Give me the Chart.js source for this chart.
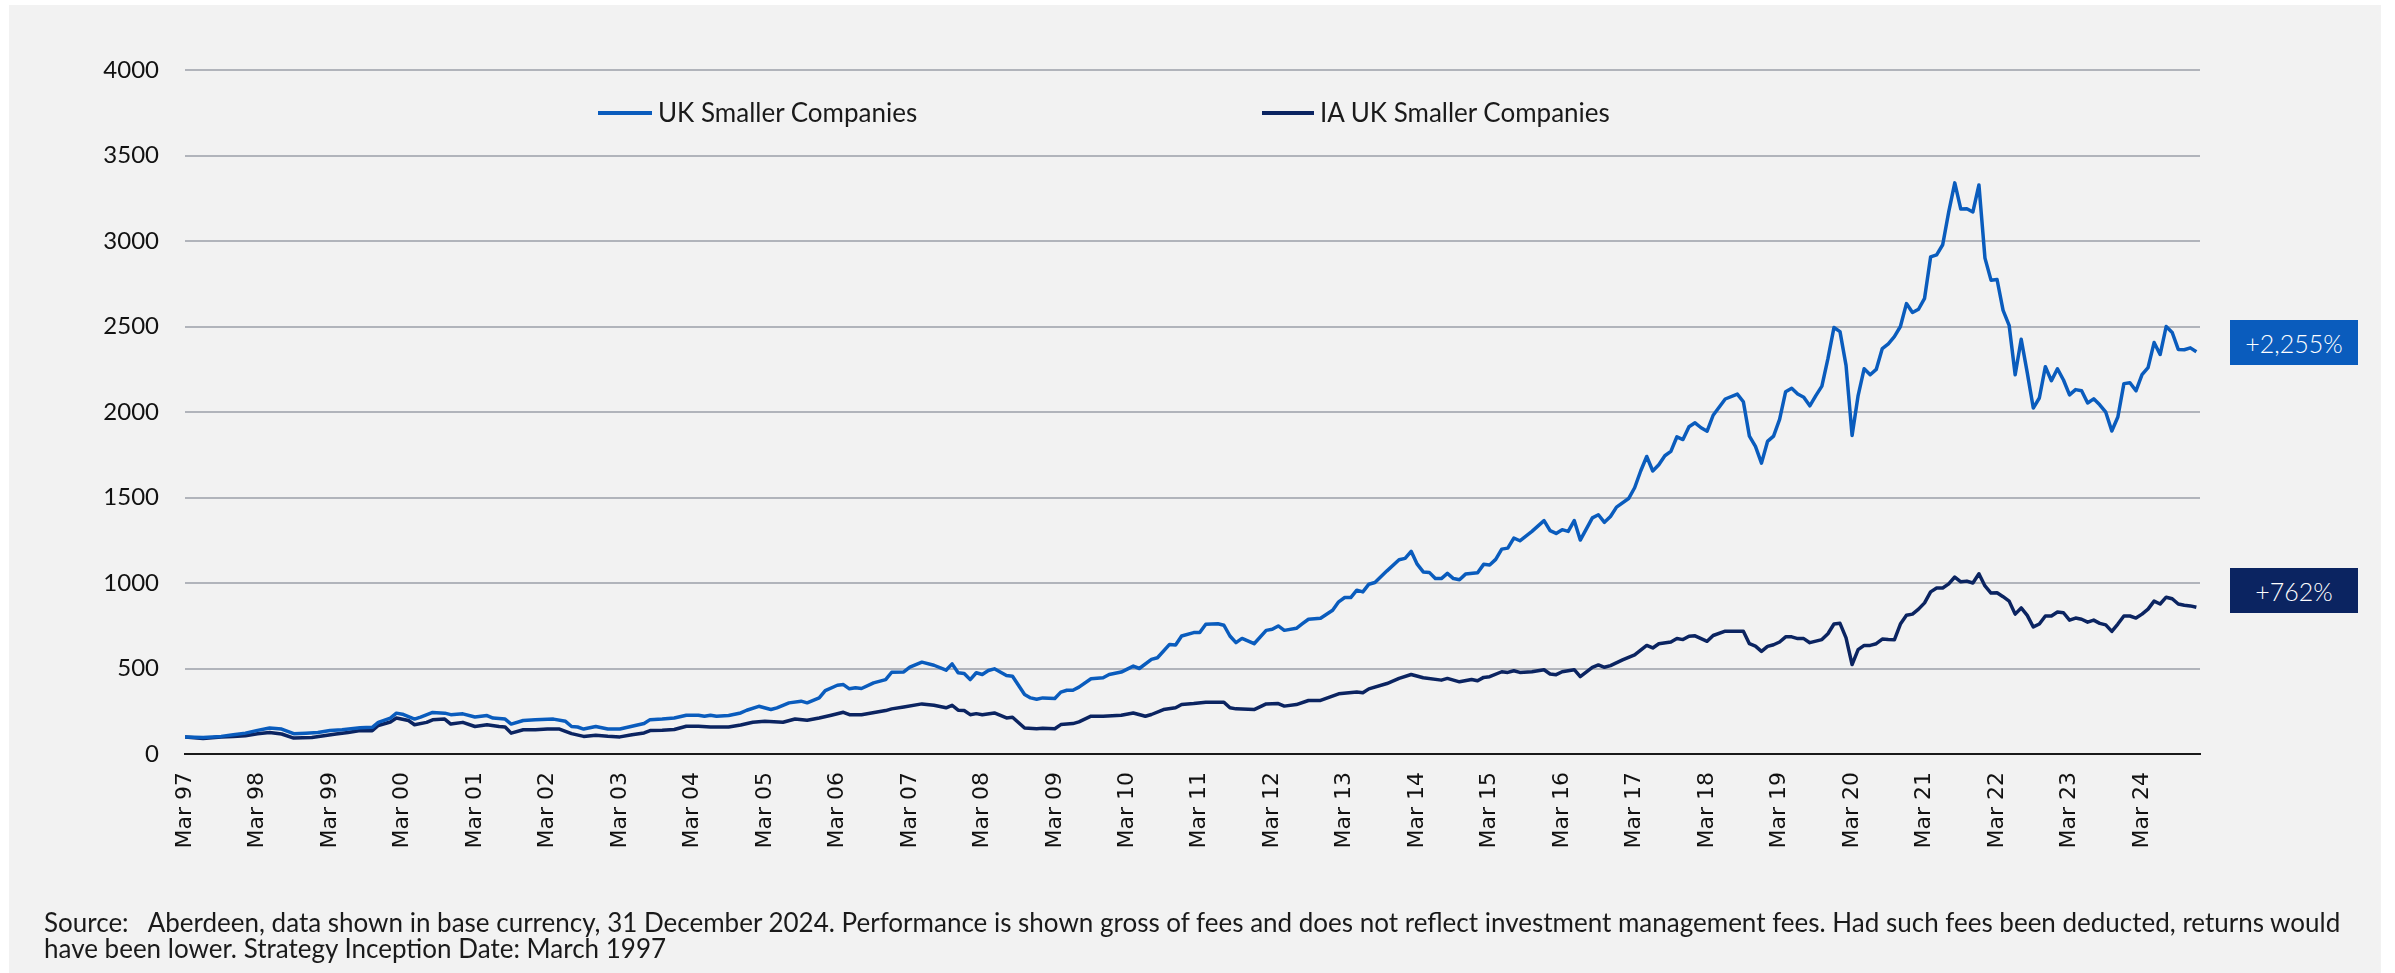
<!DOCTYPE html>
<html>
<head>
<meta charset="utf-8">
<script src="https://cdn.jsdelivr.net/npm/chart.js@4.4.1/dist/chart.umd.min.js"></script>
<style>
    html, body { margin: 0; padding: 0; background: #ffffff; }
    #panel { position: absolute; left: 9px; top: 5px; width: 2372px; height: 968px; background: #f2f2f2; }
    #wrap { position: absolute; left: 0; top: 0; width: 2395px; height: 973px; }
    .swatch { position: absolute; height: 4px; }
    .legend-text { position: absolute; font: 26px Lato, sans-serif; color: #1a1a1a; line-height: 30px; white-space: nowrap; }
    .badge { position: absolute; left: 2230px; width: 128px; height: 45px; color: #ffffff;
             font: 300 25px Lato, sans-serif; display: flex; align-items: center; justify-content: center; }
    .note { position: absolute; left: 44px; font: 26px Lato, sans-serif; color: #1a1a1a; white-space: nowrap; line-height: 26px; }
</style>
</head>
<body>
<div id="panel"></div>
<div id="wrap"><canvas id="perfChart"></canvas></div>

<div class="swatch" style="left:598px; top:111px; width:54px; background:#0a5cbd;"></div>
<div class="legend-text" style="left:658px; top:97px;">UK Smaller Companies</div>
<div class="swatch" style="left:1262px; top:111px; width:52px; background:#0b2461;"></div>
<div class="legend-text" style="left:1320px; top:97px;">IA UK Smaller Companies</div>

<div class="badge" style="top:320px; background:#0a5cbd;">+2,255%</div>
<div class="badge" style="top:568px; background:#0b2461;">+762%</div>

<div class="note" style="top:909px;">Source:&nbsp;&nbsp;&nbsp;Aberdeen, data shown in base currency, 31 December 2024. Performance is shown gross of fees and does not reflect investment management fees. Had such fees been deducted, returns would</div>
<div class="note" style="top:935px;">have been lower. Strategy Inception Date: March 1997</div>

<script>
// Подписи оси X (каждый март)
const tickLabels = ['Mar 97', 'Mar 98', 'Mar 99', 'Mar 00', 'Mar 01', 'Mar 02', 'Mar 03', 'Mar 04',
                    'Mar 05', 'Mar 06', 'Mar 07', 'Mar 08', 'Mar 09', 'Mar 10', 'Mar 11', 'Mar 12',
                    'Mar 13', 'Mar 14', 'Mar 15', 'Mar 16', 'Mar 17', 'Mar 18', 'Mar 19', 'Mar 20',
                    'Mar 21', 'Mar 22', 'Mar 23', 'Mar 24'];

// UK Smaller Companies: месяц от Mar 97 и значение
const ukMonths = [
    0, 3, 6, 8, 10,
    12, 14, 16, 18, 20, 22,
    24, 26, 29, 31, 32, 34, 35,
    36, 38, 39, 41, 43, 44, 46,
    48, 50, 51, 53, 54, 56, 58,
    61, 63, 64, 65, 66, 68, 70,
    72, 74, 76, 77, 79, 81, 83,
    85, 86, 87, 88, 90, 92, 93, 95,
    97, 98, 100, 102, 103, 105, 106,
    108, 109, 110, 111, 112, 114, 116, 117, 119,
    120, 122, 124, 126, 127, 128, 129, 130, 131,
    132, 133, 134, 136, 137, 139, 140, 141, 142,
    144, 145, 146, 147, 148, 150, 152, 153, 155,
    157, 158, 160, 161, 163, 164, 165, 167,
    168, 169, 171, 172, 173, 174, 175, 177, 179,
    180, 181, 182, 184, 185, 186, 188, 190, 191,
    192, 193, 194, 195, 196, 197, 199, 201, 202, 203,
    204, 205, 206, 207, 208, 209, 210, 211, 212,
    214, 215, 216, 217, 218, 219, 220, 221, 223, 225,
    226, 227, 228, 229, 230, 231, 233, 234, 235, 236, 237,
    239, 240, 241, 242, 243, 244, 245, 246, 247,
    248, 249, 250, 251, 252, 253, 255, 257, 258, 259,
    260, 261, 262, 263, 264, 265, 266, 267, 268, 269, 270, 271,
    272, 273, 274, 275, 276, 277, 278, 279, 280, 281, 282, 283,
    284, 285, 286, 287, 288, 289, 290, 291, 292, 293, 294, 295,
    296, 297, 298, 299, 300, 301, 302, 303, 304, 305, 306, 307,
    308, 309, 310, 311, 312, 313, 314, 315, 316, 317, 318, 319,
    320, 321, 322, 323, 324, 325, 326, 327, 328, 329, 330, 331,
    332, 333
];
const ukValues = [
    100, 97, 103, 113, 122,
    138, 152, 146, 119, 122, 126,
    138, 142, 154, 156, 185, 210, 239,
    233, 204, 216, 243, 239, 230, 235,
    216, 225, 210, 204, 175, 196, 200,
    204, 191, 161, 158, 146, 161, 146,
    146, 162, 178, 201, 205, 211, 227,
    227, 221, 227, 221, 225, 240, 256, 279,
    260, 270, 299, 309, 299, 328, 371,
    402, 406, 381, 387, 383, 416, 435, 478, 480,
    508, 537, 519, 490, 527, 475, 471, 435, 475,
    465, 488, 498, 459, 455, 348, 328, 320, 328,
    325, 362, 373, 373, 391, 440, 446, 465, 479,
    514, 500, 553, 563, 641, 637, 690, 710,
    710, 759, 762, 753, 690, 651, 676, 645, 723,
    729, 749, 723, 735, 762, 788, 794, 841, 890,
    915, 915, 958, 948, 993, 1003, 1071, 1136, 1144, 1185,
    1110, 1065, 1062, 1026, 1026, 1056, 1026, 1019, 1052,
    1060, 1109, 1105, 1138, 1198, 1204, 1263, 1247, 1302, 1365,
    1306, 1290, 1312, 1302, 1365, 1251, 1381, 1399, 1355, 1389, 1444,
    1494, 1557, 1655, 1740, 1655, 1691, 1744, 1770, 1855,
    1839, 1914, 1937, 1908, 1888, 1981, 2076, 2105, 2060, 1859,
    1799, 1701, 1828, 1859, 1957, 2119, 2139, 2105, 2086, 2036, 2096, 2151,
    2312, 2494, 2470, 2273, 1863, 2096, 2253, 2218, 2249, 2371, 2399, 2441,
    2500, 2634, 2582, 2601, 2665, 2907, 2919, 2978, 3170, 3340, 3187, 3189,
    3170, 3328, 2900, 2771, 2775, 2594, 2507, 2218, 2425, 2230, 2023, 2082,
    2265, 2183, 2253, 2187, 2100, 2131, 2124, 2053, 2077, 2042, 1999, 1889,
    1971, 2166, 2171, 2124, 2218, 2260, 2406, 2336, 2500, 2465, 2366, 2364,
    2375, 2352
];

// IA UK Smaller Companies
const iaMonths = [
    0, 3, 6, 8, 10,
    12, 14, 16, 18, 21, 23,
    25, 27, 29, 31, 32, 34, 35,
    37, 38, 40, 41, 43, 44, 46,
    48, 50, 52, 53, 54, 56, 58,
    60, 62, 64, 66, 68, 70,
    72, 74, 76, 77, 79, 81, 83,
    85, 87, 90, 92, 94,
    96, 99, 101, 103, 105, 107,
    109, 110, 112, 116, 117, 119,
    122, 124, 126, 127, 128, 129, 130, 131,
    132, 134, 136, 137, 139, 141, 142,
    144, 145, 147, 148, 150, 152, 155,
    157, 159, 160, 162, 164, 165, 167,
    169, 172, 173, 174, 177, 179,
    181, 182, 184, 186, 188, 191,
    194, 195, 196, 199, 201, 203,
    205, 208, 209, 211, 213,
    214, 215, 216, 218, 219, 220, 221, 223, 225,
    226, 227, 228, 230, 231, 233, 234, 235, 236,
    238, 240, 242, 243, 244, 246, 247,
    248, 249, 250, 252, 253, 255, 258, 259,
    260, 261, 262, 263, 264, 265, 266, 267, 268, 269, 271,
    272, 273, 274, 275, 276, 277, 278, 279, 280, 281, 282, 283,
    284, 285, 286, 287, 288, 289, 290, 291, 292, 293, 294, 295,
    296, 297, 298, 299, 300, 301, 302, 303, 304, 305, 306, 307,
    308, 309, 310, 311, 312, 313, 314, 315, 316, 317, 318, 319,
    320, 321, 322, 323, 324, 325, 326, 327, 328, 329, 330, 331,
    332, 333
];
const iaValues = [
    99, 91, 99, 103, 107,
    119, 126, 117, 93, 97, 107,
    117, 126, 138, 136, 167, 187, 210,
    196, 171, 185, 200, 204, 175, 185,
    161, 171, 161, 158, 122, 142, 142,
    146, 146, 119, 103, 110, 104,
    100, 113, 123, 137, 139, 143, 162,
    162, 158, 158, 170, 186,
    191, 186, 205, 197, 211, 227,
    244, 230, 230, 254, 264, 275,
    293, 285, 270, 285, 256, 254, 230, 236,
    230, 240, 211, 215, 152, 148, 150,
    148, 172, 178, 188, 221, 221, 227,
    240, 221, 231, 260, 270, 289, 295,
    303, 303, 270, 264, 260, 293,
    295, 280, 289, 313, 313, 352,
    362, 358, 381, 412, 442, 465,
    446, 432, 442, 422, 436,
    428, 448, 452, 481, 477, 487, 477, 481, 493,
    468, 464, 481, 493, 452, 507, 521, 507, 517,
    550, 580, 635, 620, 645, 655, 675,
    669, 689, 691, 659, 693, 718, 718, 645,
    631, 600, 629, 639, 655, 685, 685, 675, 675, 651, 669,
    703, 760, 764, 679, 523, 610, 635, 635, 645, 672, 669, 668,
    760, 811, 818, 847, 884, 948, 971, 971, 995, 1035, 1007, 1011,
    1000, 1054, 983, 941, 943, 920, 894, 818, 854, 811, 743, 760,
    807, 807, 830, 826, 783, 795, 788, 771, 783, 764, 755, 717,
    760, 807, 807, 795, 818, 847, 894, 877, 917, 908, 877, 870,
    866, 858
];

const yTicks = { min: 0, max: 4000, step: 500 };

function toPoints(months, values) {
    return months.map((m, i) => ({ x: m, y: values[i] }));
}

const ctx = document.getElementById('perfChart').getContext('2d');

new Chart(ctx, {
    type: 'line',
    data: {
        datasets: [
            {
                label: 'UK Smaller Companies',
                data: toPoints(ukMonths, ukValues),
                borderColor: '#0a5cbd',
                borderWidth: 3.5
            },
            {
                label: 'IA UK Smaller Companies',
                data: toPoints(iaMonths, iaValues),
                borderColor: '#0b2461',
                borderWidth: 3.5
            }
        ]
    },
    options: {
        responsive: true,
        maintainAspectRatio: false,
        animation: false,
        layout: {
            padding: { left: 0, right: 195, top: 70, bottom: 100 }
        },
        elements: {
            point: { radius: 0 },
            line: { tension: 0, borderJoinStyle: 'round' }
        },
        plugins: {
            legend: { display: false },
            tooltip: { enabled: false }
        },
        scales: {
            x: {
                type: 'linear',
                min: 0,
                max: 333.6,
                afterFit: function(scale) { scale.height = 119; },
                grid: { display: false, drawTicks: false },
                border: { display: true, color: '#1a1a1a', width: 2 },
                ticks: {
                    stepSize: 12,
                    includeBounds: false,
                    autoSkip: false,
                    minRotation: 90,
                    maxRotation: 90,
                    padding: 18,
                    color: '#111111',
                    font: { family: 'DejaVu Sans', size: 22 },
                    callback: function(value) {
                        const k = Math.round(value / 12);
                        return Math.abs(value - k * 12) < 0.01 ? tickLabels[k] : '';
                    }
                }
            },
            y: {
                min: yTicks.min,
                max: yTicks.max,
                afterFit: function(scale) { scale.width = 185; },
                grid: { color: '#b1b4bb', lineWidth: 2, drawTicks: false },
                border: { display: false },
                ticks: {
                    stepSize: yTicks.step,
                    padding: 26,
                    color: '#111111',
                    font: { family: 'Lato', size: 24 },
                    callback: function(value) {
                        return String(value);
                    }
                }
            }
        }
    }
});
</script>
</body>
</html>
